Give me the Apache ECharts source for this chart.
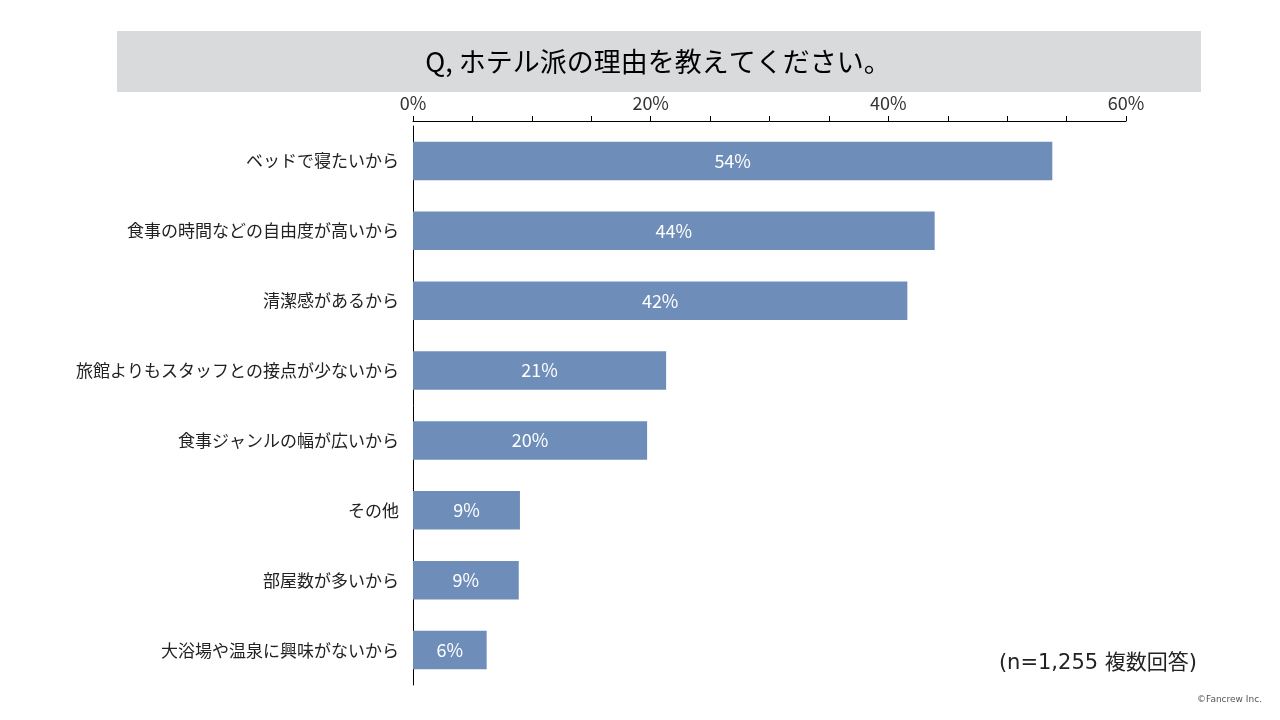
<!DOCTYPE html>
<html><head><meta charset="utf-8">
<script src="https://cdn.jsdelivr.net/npm/echarts@6/dist/echarts.min.js"></script>
<style>html,body{margin:0;padding:0;background:#fff}#c{width:1280px;height:720px}</style>
</head><body><div id="c"></div>
<script>
const categories = ['ベッドで寝たいから','食事の時間などの自由度が高いから','清潔感があるから','旅館よりもスタッフとの接点が少ないから','食事ジャンルの幅が広いから','その他','部屋数が多いから','大浴場や温泉に興味がないから'];
const values = [53.8, 43.9, 41.6, 21.3, 19.7, 9.0, 8.9, 6.2];
const tickLabels = ['0%','20%','40%','60%'];
const titleText = 'Q, ホテル派の理由を教えてください。';
const noteText = '(n=1,255 複数回答)';
const creditText = '©Fancrew Inc.';

const FONT = '"Noto Sans CJK JP", "Noto Sans", sans-serif';
const chart = echarts.init(document.getElementById('c'));
chart.setOption({
  animation: false,
  backgroundColor: '#fff',
  graphic: [
    { type: 'rect', shape: { x: 117, y: 31, width: 1084, height: 61 }, style: { fill: '#d9dadc' }, silent: true },
    { type: 'text', x: 658, y: 62, style: { text: titleText, fill: '#000', font: '27px ' + FONT, align: 'center', verticalAlign: 'middle' } },
    { type: 'text', x: 1197, y: 664, style: { text: noteText, fill: '#222', font: '21px "DejaVu Sans", "Noto Sans CJK JP", sans-serif', align: 'right', verticalAlign: 'middle' } },
    { type: 'text', x: 1262, y: 700, style: { text: creditText, fill: '#555', font: '9px "DejaVu Sans", sans-serif', align: 'right', verticalAlign: 'middle' } }
  ],
  grid: { left: 413, right: 1280 - 1126, top: 126, bottom: 720 - 685, containLabel: false },
  xAxis: {
    type: 'value', position: 'top', min: 0, max: 60, interval: 5, offset: 5,
    axisLine: { show: true, lineStyle: { color: '#000', width: 1 } },
    axisTick: { show: true, length: 5, lineStyle: { color: '#000' } },
    splitLine: { show: false },
    axisLabel: {
      margin: 9, color: '#333', fontSize: 18, fontFamily: FONT,
      formatter: v => (v % 20 === 0 ? tickLabels[v / 20] : '')
    }
  },
  yAxis: {
    type: 'category', inverse: true, data: categories,
    axisLine: { show: true, lineStyle: { color: '#000', width: 1 } },
    axisTick: { show: false },
    axisLabel: { margin: 14, color: '#222', fontSize: 17, fontFamily: FONT }
  },
  series: [{
    type: 'bar', data: values, barCategoryGap: '45%',
    itemStyle: { color: '#6e8eb9' },
    label: {
      show: true, position: 'inside', color: '#fff', fontSize: 18, fontFamily: FONT,
      formatter: p => Math.round(p.value) + '%'
    }
  }]
});
</script></body></html>
